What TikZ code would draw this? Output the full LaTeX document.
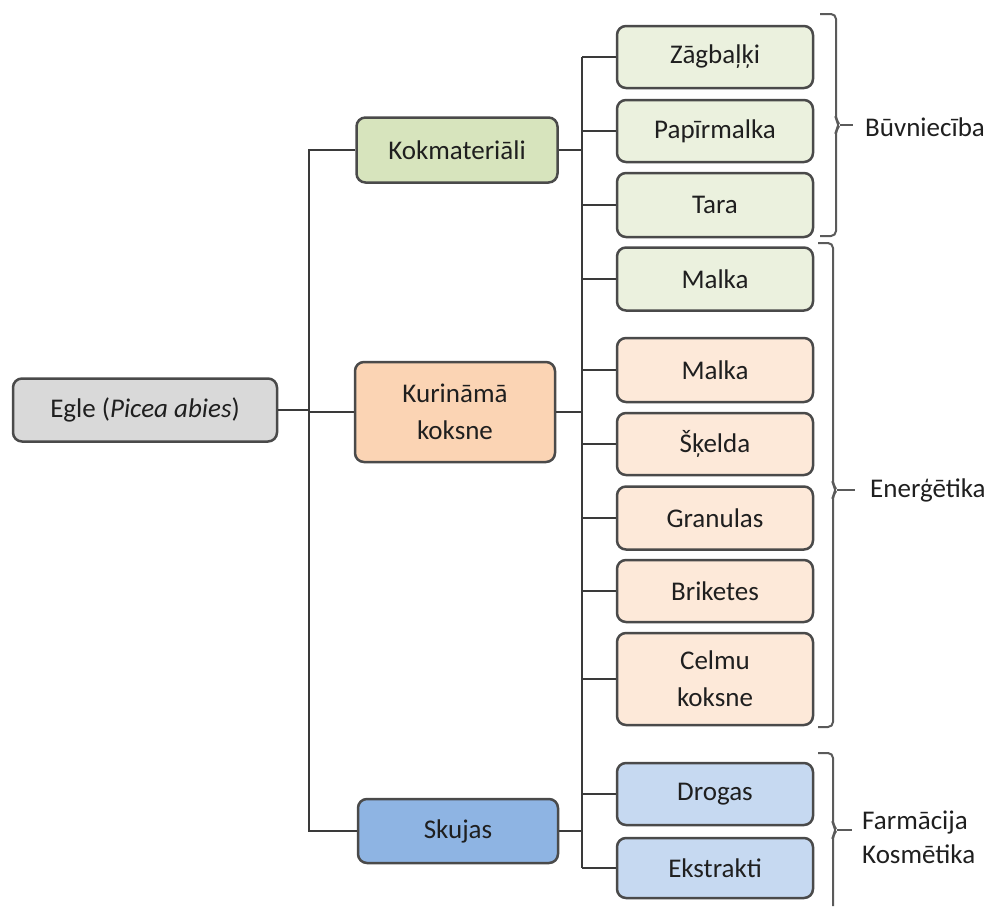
\documentclass[tikz,border=0pt]{standalone}
\usepackage{fontspec}
\setmainfont{Carlito}
\definecolor{bordc}{HTML}{4A4A4A}
\definecolor{linec}{HTML}{3A3A3A}
\definecolor{bracec}{HTML}{5A5A5A}
\definecolor{txtc}{HTML}{1F1F1F}
\definecolor{rootf}{HTML}{D9D9D9}
\definecolor{greenA}{HTML}{D7E4BD}
\definecolor{orangeA}{HTML}{FBD4B4}
\definecolor{blueA}{HTML}{8EB4E3}
\definecolor{greenB}{HTML}{EBF1DE}
\definecolor{orangeB}{HTML}{FDE9D9}
\definecolor{blueB}{HTML}{C6D9F1}
\begin{document}
\begin{tikzpicture}[x=1pt,y=-1pt,
  box/.style={draw=bordc, line width=2.5pt, rounded corners=9pt, align=center,
    text=txtc, font=\fontsize{27}{37}\selectfont, inner sep=0pt},
  lvltwo/.style={box, minimum width=196pt, minimum height=62pt},
  conn/.style={draw=linec, line width=2pt},
  brc/.style={draw=bracec, line width=2pt, rounded corners=5pt},
  lbl/.style={anchor=west, text=txtc, font=\fontsize{27}{34}\selectfont, align=left, inner sep=0pt}]
\useasboundingbox[fill=white] (0,0) rectangle (996,906);

% root and level 1
\node[box, fill=rootf, minimum width=264pt, minimum height=63pt] (root) at (145,410) {Egle (\textit{Picea abies})};
\node[box, fill=greenA, minimum width=201pt, minimum height=65pt] (kok) at (457,150) {Kokmateriāli};
\node[box, fill=orangeA, minimum width=200pt, minimum height=100pt] (kur) at (455,412) {Kurināmā\\koksne};
\node[box, fill=blueA, minimum width=200pt, minimum height=64pt] (sku) at (458,831) {Skujas};

% level 2
\node[lvltwo, fill=greenB] (zag) at (715,57) {Zāgbaļķi};
\node[lvltwo, fill=greenB] (pap) at (715,131) {Papīrmalka};
\node[lvltwo, fill=greenB, minimum height=64pt] (tara) at (715,205) {Tara};
\node[lvltwo, fill=greenB, minimum height=63pt] (malkag) at (715,279) {Malka};
\node[lvltwo, fill=orangeB, minimum height=64pt] (malkao) at (715,370) {Malka};
\node[lvltwo, fill=orangeB] (skelda) at (715,444) {Šķelda};
\node[lvltwo, fill=orangeB, minimum height=63pt] (gran) at (715,518) {Granulas};
\node[lvltwo, fill=orangeB] (brik) at (715,591) {Briketes};
\node[lvltwo, fill=orangeB, minimum height=92pt] (celmu) at (715,679) {Celmu\\koksne};
\node[lvltwo, fill=blueB] (drog) at (715,794) {Drogas};
\node[lvltwo, fill=blueB, minimum height=60pt] (ekst) at (715,868) {Ekstrakti};

% trunk coordinates
\coordinate (t) at (309,0);
\coordinate (v) at (582,0);

% connectors level 0-1
\draw[conn] (root.east) -- (root.east -| t);
\draw[conn] (kok.west) -- (kok.west -| t) -- (sku.west -| t) -- (sku.west);
\draw[conn] (kur.west) -- (kur.west -| t);

% connectors level 1-2
\draw[conn] (kok.east) -- (kok.east -| v);
\draw[conn] (kur.east) -- (kur.east -| v);
\draw[conn] (sku.east) -- (sku.east -| v);
\draw[conn] (zag.west -| v) -- (ekst.west -| v);
\foreach \n in {zag,pap,tara,malkag,malkao,skelda,gran,brik,celmu,drog,ekst}
  \draw[conn] (\n.west) -- (\n.west -| v);

% braces
\draw[brc] (820,14) -- (836,14) -- (836,120) -- (840,125) -- (836,130) -- (836,236) -- (820,236);
\draw[brc] (840,125) -- (853,125);
\draw[brc] (818,243) -- (833,243) -- (833,485) -- (837,490) -- (833,495) -- (833,727) -- (818,727);
\draw[brc] (837,490) -- (855,490);
\draw[brc] (818,753) -- (833,753) -- (833,825) -- (837,830) -- (833,835) -- (833,906);
\draw[brc] (837,830) -- (852,830);

% labels
\node[lbl] (buv) at (865,127) {Būvniecība};
\node[lbl] (ener) at (870,490) {Enerģētika};
\node[lbl] (farm) at (862,837) {Farmācija\\Kosmētika};
\end{tikzpicture}
\end{document}
